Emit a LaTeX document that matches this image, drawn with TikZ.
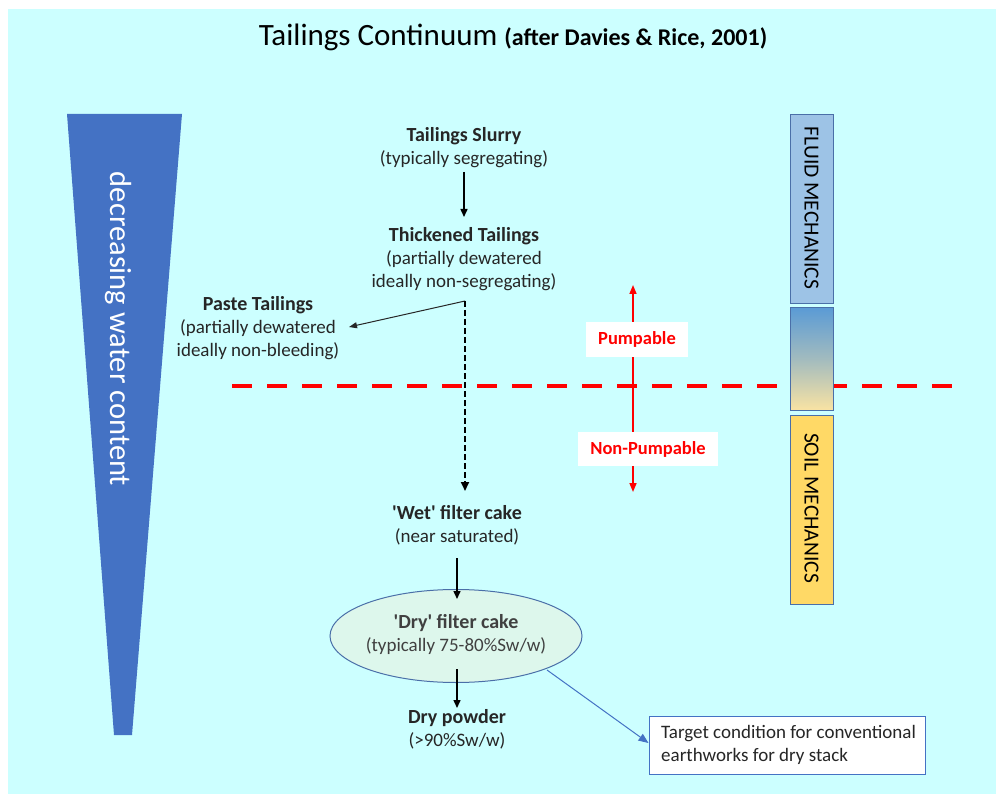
\documentclass[tikz,border=0pt]{standalone}
\usepackage{fontspec}
\setmainfont{Carlito}
\usetikzlibrary{arrows.meta,shapes.geometric}
\definecolor{bgc}{HTML}{CCFFFF}
\definecolor{tric}{HTML}{4472C4}
\definecolor{fluidc}{HTML}{9DC3E6}
\definecolor{soilc}{HTML}{FFD966}
\definecolor{edgec}{HTML}{4A6FA8}
\definecolor{ellc}{HTML}{DDF7EC}
\definecolor{midtop}{HTML}{5B9BD5}
\definecolor{midbot}{HTML}{F9E3A3}
\definecolor{redc}{HTML}{FF0000}
\newcommand{\hd}[1]{{\fontsize{20}{23}\selectfont\bfseries #1}}
\tikzset{
  lbl/.style={align=center,font=\fontsize{19}{23}\selectfont,inner sep=0pt,text=black!85},
  blkarrow/.style={draw=black,line width=1.5pt,-{Triangle[length=8pt,width=7pt]}},
  thinarrow/.style={draw=black!85,line width=1pt,-{Triangle[length=8pt,width=6pt]}},
  dasharrow/.style={draw=black,line width=2pt,dash pattern=on 6pt off 3pt,-{Triangle[length=9pt,width=8pt]}},
  redarrow/.style={draw=redc,line width=1.6pt,{Triangle[length=9pt,width=7pt]}-{Triangle[length=9pt,width=7pt]}},
  redbox/.style={fill=white,text=redc,font=\fontsize{18.5}{21}\selectfont\bfseries,inner sep=0pt},
  mechbox/.style={draw=edgec,line width=1pt,minimum width=43pt,inner sep=0pt},
  mechtext/.style={rotate=-90,font=\fontsize{21.5}{24}\selectfont,text=black},
  bluearrow/.style={draw=tric,line width=1pt,-{Triangle[length=10pt,width=8pt]}},
}
\begin{document}
\begin{tikzpicture}[x=1pt,y=-1pt]
\useasboundingbox (0,0) rectangle (996,794);
\fill[white] (0,0) rectangle (996,794);
\fill[bgc] (8,9) rectangle (996,794);

% title
\node[inner sep=0pt] (title) at (513,37) {\fontsize{31}{34}\selectfont Tailings Continuum \fontsize{24}{26}\selectfont\bfseries (after Davies \& Rice, 2001)};

% triangle
\fill[tric] (67,114) -- (182,114) -- (132,735) -- (114,735) -- cycle;
\node[rotate=-90,text=white,font=\fontsize{30.5}{32}\selectfont,inner sep=0pt] (water) at (118,329) {decreasing water content};

% red dashed line
\draw[redc,line width=4pt,dash pattern=on 20pt off 15pt] (232,386) -- (960,386);

% text nodes
\node[lbl] (slurry) at (464,147.5) {\hd{Tailings Slurry}\\(typically segregating)};
\node[lbl] (thick) at (464,259) {\hd{Thickened Tailings}\\(partially dewatered\\ideally non-segregating)};
\node[lbl] (paste) at (258,328) {\hd{Paste Tailings}\\(partially dewatered\\ideally non-bleeding)};
\node[lbl] (wet) at (457,525.5) {\hd{\textquotesingle Wet\textquotesingle{} filter cake}\\(near saturated)};
\node[ellipse,draw=edgec,line width=1pt,fill=ellc,minimum width=252pt,minimum height=93pt,inner sep=0pt] (dry) at (456,636) {};
\node[lbl,text=black!75] (drytext) at (456,634.5) {\hd{\textquotesingle Dry\textquotesingle{} filter cake}\\(typically 75-80\%Sw/w)};
\node[lbl] (powder) at (457,729.5) {\hd{Dry powder}\\(>90\%Sw/w)};
\node[draw=tric,line width=1pt,fill=white,minimum width=276pt,minimum height=58pt,inner sep=0pt] (target) at (787,745) {};
\node[align=left,anchor=west,inner sep=0pt,font=\fontsize{19}{23}\selectfont,text=black!85] (targettext) at (661,744.5) {Target condition for conventional\\earthworks for dry stack};

% connectors
\coordinate (s1) at (464,172);
\coordinate (e1) at (464,217);
\draw[blkarrow] (s1) -- (e1);
\coordinate (split) at (465,301);
\coordinate (pastetip) at (349,327);
\draw[thinarrow] (split) -- (pastetip);
\coordinate (wettip) at (465,491);
\draw[dasharrow] (split) -- (wettip);
\coordinate (s2) at (457,558);
\coordinate (e2) at (457,599);
\draw[blkarrow] (s2) -- (e2);
\coordinate (s3) at (457,669);
\coordinate (e3) at (457,708);
\draw[blkarrow] (s3) -- (e3);
\coordinate (s4) at (547,670);
\draw[bluearrow] (s4) -- (target.west |- 0,743);

% pumpable arrow
\coordinate (pup) at (633,285);
\coordinate (pdown) at (633,492);
\draw[redarrow] (pup) -- (pdown);
\node[redbox,minimum width=102pt,minimum height=35pt] (pump) at (637,339.5) {Pumpable};
\node[redbox,minimum width=140pt,minimum height=34pt] (nonpump) at (648,449) {Non-Pumpable};

% mechanics column
\node[mechbox,fill=fluidc,minimum height=189pt] (fluid) at (811.5,209.5) {};
\node[mechtext] (fluidtext) at (811.5,208) {FLUID MECHANICS};
\node[mechbox,top color=midtop,bottom color=midbot,middle color=midtop!55!midbot,minimum height=102pt] (trans) at (811.5,359) {};
\node[mechbox,fill=soilc,minimum height=189pt] (soil) at (811.5,509.5) {};
\node[mechtext] (soiltext) at (811.5,508) {SOIL MECHANICS};
\end{tikzpicture}
\end{document}
